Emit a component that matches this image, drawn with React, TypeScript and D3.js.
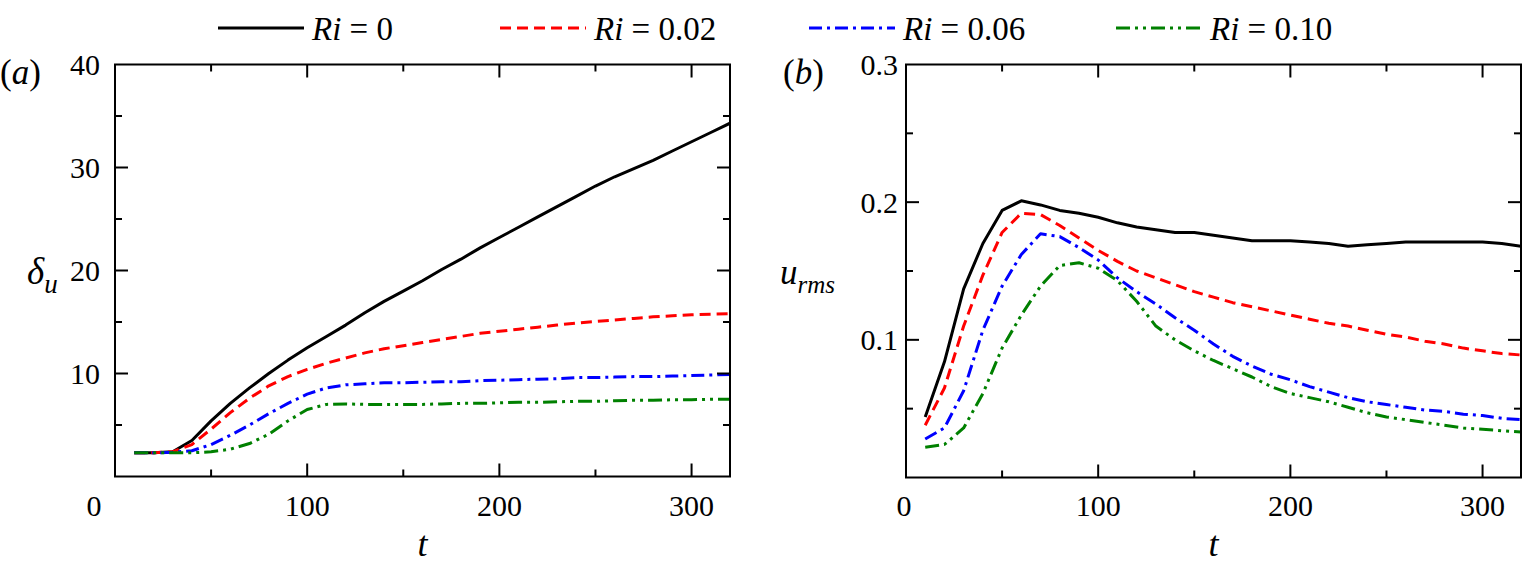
import React from "react";
import * as d3 from "d3";

const tValues = [10,20,30,40,50,60,70,80,90,100,110,120,130,140,150,160,170,180,190,200,210,220,230,240,250,260,270,280,290,300,310,320];

const seriesNames = ["0", "0.02", "0.06", "0.10"];
const seriesColors = ["#000000", "#ff0000", "#0000ff", "#008000"];
const seriesDash = ["", "11,6", "13,5,3,5", "14,5,3,5,3,5"];

const deltaRi0 = [2.3,2.3,2.4,3.5,5.4,7.1,8.6,10.0,11.3,12.5,13.6,14.7,15.9,17.0,18.0,19.0,20.1,21.1,22.2,23.2,24.2,25.2,26.2,27.2,28.2,29.1,29.9,30.7,31.6,32.5,33.4,34.3];
const deltaRi002 = [2.3,2.3,2.4,3.1,4.6,6.2,7.6,8.8,9.7,10.4,11.0,11.5,12.0,12.4,12.7,13.0,13.3,13.6,13.9,14.1,14.3,14.5,14.7,14.9,15.05,15.2,15.35,15.5,15.6,15.7,15.75,15.8];
const deltaRi006 = [2.3,2.3,2.35,2.5,3.1,4.0,5.0,6.1,7.1,8.0,8.6,8.9,9.0,9.1,9.1,9.15,9.2,9.2,9.3,9.35,9.4,9.45,9.5,9.6,9.6,9.65,9.7,9.7,9.75,9.8,9.85,9.9];
const deltaRi010 = [2.3,2.3,2.3,2.3,2.4,2.65,3.2,4.1,5.4,6.5,7.0,7.05,7.0,7.0,7.0,7.0,7.05,7.1,7.1,7.15,7.2,7.2,7.25,7.3,7.3,7.35,7.4,7.4,7.45,7.45,7.5,7.5];

const urmsRi0 = [0.044,0.084,0.137,0.170,0.194,0.201,0.198,0.194,0.192,0.189,0.185,0.182,0.180,0.178,0.178,0.176,0.174,0.172,0.172,0.172,0.171,0.170,0.168,0.169,0.170,0.171,0.171,0.171,0.171,0.171,0.170,0.168];
const urmsRi002 = [0.038,0.065,0.110,0.147,0.178,0.192,0.191,0.183,0.174,0.165,0.157,0.150,0.145,0.140,0.135,0.131,0.127,0.124,0.121,0.118,0.115,0.112,0.110,0.107,0.104,0.102,0.099,0.097,0.094,0.092,0.090,0.089];
const urmsRi006 = [0.028,0.036,0.063,0.107,0.139,0.162,0.177,0.175,0.167,0.158,0.145,0.135,0.126,0.116,0.107,0.097,0.088,0.081,0.075,0.071,0.066,0.062,0.058,0.055,0.053,0.051,0.049,0.048,0.046,0.045,0.043,0.042];
const urmsRi010 = [0.022,0.024,0.036,0.061,0.094,0.118,0.139,0.154,0.156,0.152,0.143,0.128,0.110,0.100,0.092,0.085,0.079,0.073,0.066,0.061,0.058,0.055,0.051,0.047,0.044,0.042,0.040,0.038,0.036,0.035,0.034,0.033];

const xTickLabels = [0, 100, 200, 300];
const xMajorTicks = [100, 200, 300];
const xMinorTicks = [50, 150, 250];
const aYLabels = [10, 20, 30, 40];
const aYMajor = [10, 20, 30];
const aYMinor = [5, 15, 25, 35];
const bYLabels = [0.1, 0.2, 0.3];
const bYMajor = [0.1, 0.2];
const bYMinor = [0.05, 0.15, 0.25];

const FONT = "'Liberation Serif', 'Times New Roman', Times, 'DejaVu Serif', 'Noto Serif', serif";

type PanelProps = {
  x0: number; x1: number; y0: number; y1: number;
  yMax: number;
  series: number[][];
  yLabels: number[]; yMajor: number[]; yMinor: number[];
  yFmt: (v: number) => string;
  yLabelGap: number;
  zeroDx: number;
  clipId: string;
};

function Panel(p: PanelProps) {
  const x = d3.scaleLinear().domain([0, 320]).range([p.x0, p.x1]);
  const y = d3.scaleLinear().domain([0, p.yMax]).range([p.y1, p.y0]);
  const line = d3.line<number>().x((_, i) => x(tValues[i])).y((v) => y(v));
  const major = 13, minor = 7;
  return (
    <g>
      <defs>
        <clipPath id={p.clipId}>
          <rect x={p.x0} y={p.y0} width={p.x1 - p.x0} height={p.y1 - p.y0} />
        </clipPath>
      </defs>
      <g clipPath={`url(#${p.clipId})`}>
        {p.series.map((s, i) => (
          <path key={i} d={line(s) || ""} fill="none" stroke={seriesColors[i]} strokeWidth={3}
            strokeDasharray={seriesDash[i] || undefined} strokeLinejoin="round" />
        ))}
      </g>
      <g stroke="#000" strokeWidth={2}>
        {xMajorTicks.map((t) => (
          <g key={"xM" + t}>
            <line x1={x(t)} x2={x(t)} y1={p.y1} y2={p.y1 - major} />
            <line x1={x(t)} x2={x(t)} y1={p.y0} y2={p.y0 + major} />
          </g>
        ))}
        {xMinorTicks.map((t) => (
          <g key={"xm" + t}>
            <line x1={x(t)} x2={x(t)} y1={p.y1} y2={p.y1 - minor} />
            <line x1={x(t)} x2={x(t)} y1={p.y0} y2={p.y0 + minor} />
          </g>
        ))}
        {p.yMajor.map((v) => (
          <g key={"yM" + v}>
            <line x1={p.x0} x2={p.x0 + major} y1={y(v)} y2={y(v)} />
            <line x1={p.x1} x2={p.x1 - major} y1={y(v)} y2={y(v)} />
          </g>
        ))}
        {p.yMinor.map((v) => (
          <g key={"ym" + v}>
            <line x1={p.x0} x2={p.x0 + minor} y1={y(v)} y2={y(v)} />
            <line x1={p.x1} x2={p.x1 - minor} y1={y(v)} y2={y(v)} />
          </g>
        ))}
        <rect x={p.x0} y={p.y0} width={p.x1 - p.x0} height={p.y1 - p.y0} fill="none" />
      </g>
      <g fontFamily={FONT} fontSize={30} fill="#000">
        {xTickLabels.map((t) => (
          <text key={"xl" + t} x={x(t) + (t === 0 ? p.zeroDx : 0)} y={516} textAnchor="middle">{t}</text>
        ))}
        {p.yLabels.map((v) => (
          <text key={"yl" + v} x={p.x0 - p.yLabelGap} y={y(v)} dy="0.35em" textAnchor="end">{p.yFmt(v)}</text>
        ))}
        <text x={(p.x0 + p.x1) / 2} y={556} textAnchor="middle" fontStyle="italic" fontSize={36}>t</text>
      </g>
    </g>
  );
}

export default function App() {
  const legendX = [218, 500, 809, 1116];
  return (
    <svg width={1523} height={565} style={{ position: "absolute", left: 0, top: 0, background: "#fff" }}
      xmlns="http://www.w3.org/2000/svg">
      <rect x={0} y={0} width={1523} height={565} fill="#fff" />
      <g fontFamily={FONT} fill="#000">
        {seriesNames.map((n, i) => (
          <g key={n}>
            <line x1={legendX[i]} x2={legendX[i] + 86} y1={28} y2={28} stroke={seriesColors[i]} strokeWidth={3}
              strokeDasharray={seriesDash[i] || undefined} />
            <text x={legendX[i] + 94} y={40} fontSize={33}>
              <tspan fontStyle="italic">Ri</tspan>
              <tspan> = {n}</tspan>
            </text>
          </g>
        ))}
        <text x={0} y={84} fontSize={35}>
          (<tspan fontStyle="italic">a</tspan>)
        </text>
        <text x={783} y={84} fontSize={35}>
          (<tspan fontStyle="italic">b</tspan>)
        </text>
        <text x={27} y={284} fontSize={37} fontStyle="italic">
          δ<tspan fontSize={27} dy={9}>u</tspan>
        </text>
        <text x={780} y={284} fontSize={35} fontStyle="italic">
          u<tspan fontSize={25} dy={9}>rms</tspan>
        </text>
      </g>
      <Panel x0={115} x1={730} y0={64.5} y1={476.5} yMax={40}
        series={[deltaRi0, deltaRi002, deltaRi006, deltaRi010]}
        yLabels={aYLabels} yMajor={aYMajor} yMinor={aYMinor}
        yFmt={(v) => String(v)} yLabelGap={15} zeroDx={-21} clipId="clipA" />
      <Panel x0={906} x1={1521} y0={64.5} y1={477.5} yMax={0.3}
        series={[urmsRi0, urmsRi002, urmsRi006, urmsRi010]}
        yLabels={bYLabels} yMajor={bYMajor} yMinor={bYMinor}
        yFmt={(v) => v.toFixed(1)} yLabelGap={8} zeroDx={-2} clipId="clipB" />
    </svg>
  );
}
